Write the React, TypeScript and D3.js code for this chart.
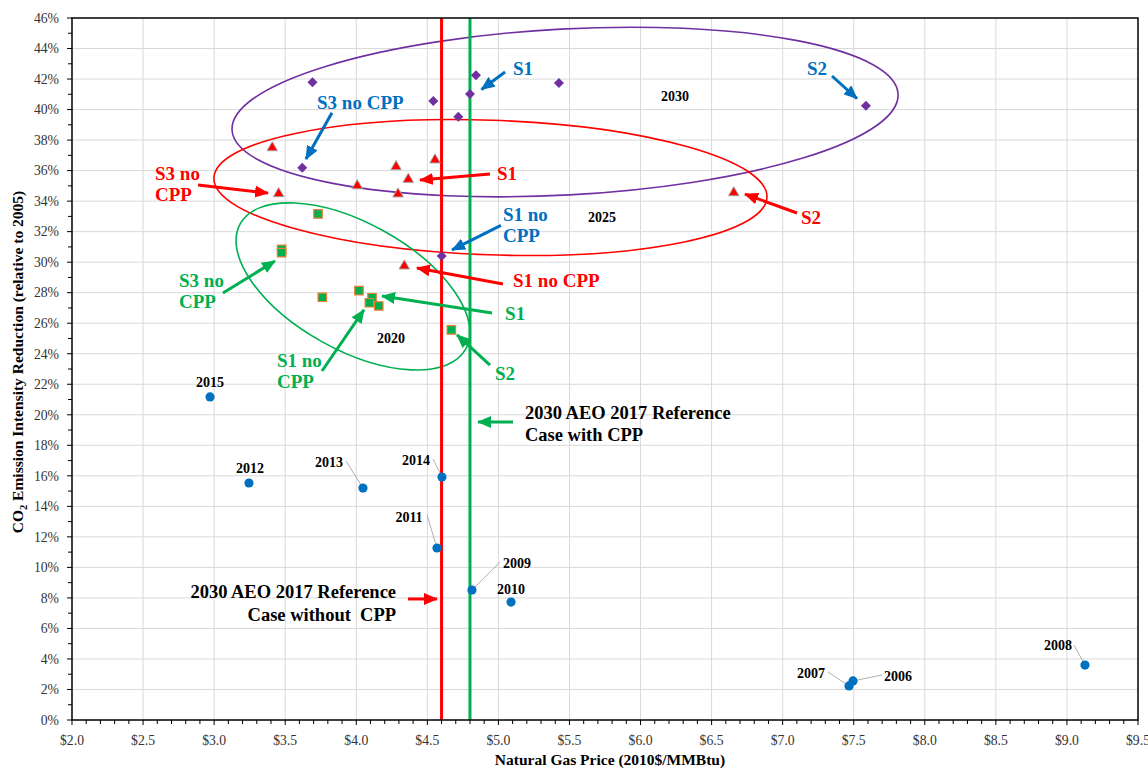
import React from 'react';
import * as d3 from 'd3';

const W = 1148;
const H = 768;

// ---------- data ----------
const xTickValues = [2, 2.5, 3, 3.5, 4, 4.5, 5, 5.5, 6, 6.5, 7, 7.5, 8, 8.5, 9, 9.5];
const yTickValues = [0, 2, 4, 6, 8, 10, 12, 14, 16, 18, 20, 22, 24, 26, 28, 30, 32, 34, 36, 38, 40, 42, 44, 46];

const histYears = ['2006', '2007', '2008', '2009', '2010', '2011', '2012', '2013', '2014', '2015'];
const histPrice = [7.495, 7.467, 9.127, 4.814, 5.089, 4.568, 3.245, 4.047, 4.603, 2.971];
const histReduction = [2.56, 2.23, 3.6, 8.52, 7.73, 11.27, 15.53, 15.2, 15.92, 21.17];
// label positions (data units) and leader start (null = no leader)
const histLabelX = [7.811, 7.199, 8.937, 5.131, 5.089, 4.371, 3.252, 3.808, 4.42, 2.971];
const histLabelY = [2.88, 3.08, 4.91, 10.29, 8.58, 13.3, 16.51, 16.91, 17.04, 22.15];
const histLeaderX = [7.699, 7.319, 9.05, 5.011, null, 4.498, null, 3.928, 4.54, null];
const histLeaderY = [2.95, 3.15, 4.91, 10.35, null, 13.43, null, 16.97, 17.1, null];

const price2030 = [3.692, 4.542, 4.842, 4.8, 4.718, 5.426, 7.586, 3.62, 4.601];
const red2030 = [41.79, 40.56, 42.25, 41.02, 39.53, 41.74, 40.25, 36.19, 30.4];

const price2025 = [3.409, 3.454, 4.007, 4.28, 4.366, 4.294, 4.554, 4.338, 6.656];
const red2025 = [37.5, 34.49, 35.01, 36.26, 35.43, 34.47, 36.7, 29.75, 34.55];

const price2020 = [3.731, 3.475, 3.475, 3.761, 4.019, 4.111, 4.092, 4.158, 4.669];
const red2020 = [33.16, 30.84, 30.62, 27.7, 28.13, 27.67, 27.34, 27.13, 25.56];

const refPriceNoCpp = 4.6;
const refPriceWithCpp = 4.8;

const BLUE = '#0070c0';
const RED = '#ff0000';
const GREEN = '#00b050';
const PURPLE = '#7030a0';

type Ann = {
  lines: string[];
  x: number;
  y: number;
  color: string;
  arrowColor: string;
  from: [number, number];
  to: [number, number];
  anchor?: 'start' | 'end';
  size?: number;
  gap?: number;
};

const annotations: Ann[] = [
  { lines: ['S1'], x: 5.103, y: 42.72, color: BLUE, arrowColor: BLUE, from: [5.047, 42.46], to: [4.881, 41.32] },
  { lines: ['S2'], x: 7.171, y: 42.72, color: BLUE, arrowColor: BLUE, from: [7.347, 42.2], to: [7.523, 40.72] },
  { lines: ['S3 no CPP'], x: 3.724, y: 40.5, color: BLUE, arrowColor: BLUE, from: [3.829, 39.79], to: [3.646, 36.76] },
  { lines: ['S1 no', 'CPP'], x: 5.032, y: 33.16, color: BLUE, arrowColor: BLUE, from: [5.018, 32.41], to: [4.674, 30.8] },
  { lines: ['S3 no', 'CPP'], x: 2.584, y: 35.84, color: RED, arrowColor: RED, from: [2.887, 35.06], to: [3.379, 34.53] },
  { lines: ['S1'], x: 4.99, y: 35.84, color: RED, arrowColor: RED, from: [4.941, 35.78], to: [4.448, 35.38] },
  { lines: ['S1 no CPP'], x: 5.103, y: 28.83, color: RED, arrowColor: RED, from: [5.032, 28.57], to: [4.427, 29.62] },
  { lines: ['S2'], x: 7.129, y: 32.96, color: RED, arrowColor: RED, from: [7.101, 33.22], to: [6.735, 34.46] },
  { lines: ['S3 no', 'CPP'], x: 2.753, y: 28.83, color: GREEN, arrowColor: GREEN, from: [3.062, 27.98], to: [3.428, 30.08] },
  { lines: ['S1'], x: 5.047, y: 26.67, color: GREEN, arrowColor: GREEN, from: [4.955, 26.67], to: [4.181, 27.78] },
  { lines: ['S1 no', 'CPP'], x: 3.442, y: 23.59, color: GREEN, arrowColor: GREEN, from: [3.759, 22.87], to: [4.054, 26.87] },
  { lines: ['S2'], x: 4.976, y: 22.74, color: GREEN, arrowColor: GREEN, from: [4.941, 23.26], to: [4.709, 25.23] },
  {
    lines: ['2030 AEO 2017 Reference', 'Case without  CPP'], x: 4.28, y: 8.45, color: '#000', arrowColor: RED,
    from: [4.364, 7.93], to: [4.568, 7.93], anchor: 'end', size: 18.5, gap: 23,
  },
  {
    lines: ['2030 AEO 2017 Reference', 'Case with CPP'], x: 5.187, y: 20.12, color: '#000', arrowColor: GREEN,
    from: [5.103, 19.53], to: [4.857, 19.53], anchor: 'start', size: 18.5, gap: 22,
  },
];

const groupLabels = ['2030', '2025', '2020'];
const groupLabelX = [6.243, 5.729, 4.244];
const groupLabelY = [40.89, 32.96, 25.03];

// ellipses: centers in data units, radii/rotation as styling
const ellipses = [
  { cx: 5.469, cy: 39.84, rx: 333.5, ry: 83, rot: -3.1, color: PURPLE },
  { cx: 4.944, cy: 34.89, rx: 276.7, ry: 67.3, rot: 2.0, color: RED },
  { cx: 3.977, cy: 28.41, rx: 129, ry: 63.4, rot: 29, color: GREEN },
];

const FONT = "'Liberation Serif', 'Times New Roman', serif";

export default function App() {
  const left = 72, right = 1138, top = 18, bottom = 720;
  const x = d3.scaleLinear().domain([2, 9.5]).range([left, right]);
  const y = d3.scaleLinear().domain([0, 46]).range([bottom, top]);

  const minorX = d3.range(20, 96, 1).map((v) => v / 10);
  const minorY = d3.range(0, 47, 1);

  const triangle = d3.symbol().type(d3.symbolTriangle).size(48)()!;
  const square = d3.symbol().type(d3.symbolSquare).size(72)()!;
  const diamond = d3.symbol().type(d3.symbolSquare).size(50)()!;

  const markerColors = [BLUE, RED, GREEN];

  return (
    <div style={{ position: 'absolute', left: 0, top: 0 }}>
      <svg width={W} height={H} style={{ display: 'block', background: '#fff' }} fontFamily={FONT}>
        <defs>
          {markerColors.map((c, i) => (
            <marker
              key={i}
              id={`arr${i}`}
              markerUnits="userSpaceOnUse"
              markerWidth={14}
              markerHeight={12}
              viewBox="0 0 14 12"
              refX={13}
              refY={6}
              orient="auto"
            >
              <path d="M0,0 L14,6 L0,12 Z" fill={c} />
            </marker>
          ))}
        </defs>

        {/* gridlines */}
        {xTickValues.slice(1, -1).map((v) => (
          <line key={'gx' + v} x1={x(v)} x2={x(v)} y1={top} y2={bottom} stroke="#d9d9d9" strokeWidth={1} />
        ))}
        {yTickValues.slice(1, -1).map((v) => (
          <line key={'gy' + v} x1={left} x2={right} y1={y(v)} y2={y(v)} stroke="#d9d9d9" strokeWidth={1} />
        ))}

        {/* ellipses */}
        {ellipses.map((e, i) => (
          <ellipse
            key={'el' + i}
            cx={0}
            cy={0}
            rx={e.rx}
            ry={e.ry}
            transform={`translate(${x(e.cx)},${y(e.cy)}) rotate(${e.rot})`}
            fill="none"
            stroke={e.color}
            strokeWidth={1.6}
          />
        ))}

        {/* reference lines */}
        <line x1={x(refPriceNoCpp)} x2={x(refPriceNoCpp)} y1={top} y2={bottom} stroke={RED} strokeWidth={3} />
        <line x1={x(refPriceWithCpp)} x2={x(refPriceWithCpp)} y1={top} y2={bottom} stroke={GREEN} strokeWidth={3} />

        {/* frame */}
        <rect x={left} y={top} width={right - left} height={bottom - top} fill="none" stroke="#000" strokeWidth={1.5} />

        {/* ticks */}
        {minorX.map((v) => {
          const major = Math.abs(v * 2 - Math.round(v * 2)) < 1e-6;
          return (
            <line key={'tx' + v} x1={x(v)} x2={x(v)} y1={bottom} y2={bottom + (major ? 5 : 4)} stroke="#000" strokeWidth={1} />
          );
        })}
        {minorY.map((v) => (
          <line key={'ty' + v} x1={left - (v % 2 === 0 ? 5 : 4)} x2={left} y1={y(v)} y2={y(v)} stroke="#000" strokeWidth={1} />
        ))}

        {/* tick labels */}
        {xTickValues.map((v) => (
          <text key={'lx' + v} x={x(v)} y={745} textAnchor="middle" fontSize={13.7} fill="#333">
            {'$' + v.toFixed(1)}
          </text>
        ))}
        {yTickValues.map((v) => (
          <text key={'ly' + v} x={59} y={y(v)} dy="0.35em" textAnchor="end" fontSize={13.7} fill="#333">
            {v + '%'}
          </text>
        ))}

        {/* axis titles */}
        <text x={610} y={765} textAnchor="middle" fontSize={15.5} fontWeight="bold" fill="#000">
          Natural Gas Price (2010$/MMBtu)
        </text>
        <text
          transform={`translate(23,362) rotate(-90)`}
          textAnchor="middle"
          fontSize={15.5}
          fontWeight="bold"
          fill="#000"
        >
          CO<tspan fontSize={10.5} dy={4}>2</tspan>
          <tspan dy={-4}> Emission Intensity Reduction (relative to 2005)</tspan>
        </text>

        {/* historical leader lines */}
        {histYears.map((yr, i) =>
          histLeaderX[i] != null ? (
            <line
              key={'ll' + yr}
              x1={x(histLeaderX[i] as number)}
              y1={y(histLeaderY[i] as number)}
              x2={x(histPrice[i])}
              y2={y(histReduction[i])}
              stroke="#a6a6a6"
              strokeWidth={0.9}
            />
          ) : null
        )}

        {/* historical points */}
        {histYears.map((yr, i) => (
          <circle key={'hp' + yr} cx={x(histPrice[i])} cy={y(histReduction[i])} r={4.6} fill={BLUE} />
        ))}
        {histYears.map((yr, i) => (
          <text
            key={'hl' + yr}
            x={x(histLabelX[i])}
            y={y(histLabelY[i])}
            dy="0.35em"
            textAnchor="middle"
            fontSize={14}
            fontWeight="bold"
            fill="#000"
          >
            {yr}
          </text>
        ))}

        {/* 2020 squares */}
        {price2020.map((p, i) => (
          <path
            key={'s20' + i}
            d={square}
            transform={`translate(${x(p)},${y(red2020[i])})`}
            fill={GREEN}
            stroke="#ed7d31"
            strokeWidth={1.2}
          />
        ))}
        {/* 2025 triangles */}
        {price2025.map((p, i) => (
          <path
            key={'s25' + i}
            d={triangle}
            transform={`translate(${x(p)},${y(red2025[i])})`}
            fill={RED}
            stroke="#a6a6a6"
            strokeWidth={1}
          />
        ))}
        {/* 2030 diamonds */}
        {price2030.map((p, i) => (
          <path
            key={'s30' + i}
            d={diamond}
            transform={`translate(${x(p)},${y(red2030[i])}) rotate(45)`}
            fill={PURPLE}
          />
        ))}

        {/* group labels */}
        {groupLabels.map((g, i) => (
          <text
            key={'g' + g}
            x={x(groupLabelX[i])}
            y={y(groupLabelY[i])}
            dy="0.35em"
            textAnchor="middle"
            fontSize={14}
            fontWeight="bold"
            fill="#000"
          >
            {g}
          </text>
        ))}

        {/* annotations */}
        {annotations.map((a, i) => {
          const ci = markerColors.indexOf(a.arrowColor);
          const fs = a.size ?? 19;
          const gap = a.gap ?? 21.5;
          return (
            <g key={'an' + i}>
              <line
                x1={x(a.from[0])}
                y1={y(a.from[1])}
                x2={x(a.to[0])}
                y2={y(a.to[1])}
                stroke={a.arrowColor}
                strokeWidth={3}
                markerEnd={`url(#arr${ci})`}
              />
              {a.lines.map((ln, k) => (
                <text
                  key={k}
                  x={x(a.x)}
                  y={y(a.y) + k * gap}
                  dy="0.35em"
                  textAnchor={a.anchor ?? 'start'}
                  fontSize={fs}
                  fontWeight="bold"
                  fill={a.color}
                  style={{ whiteSpace: 'pre' }}
                >
                  {ln}
                </text>
              ))}
            </g>
          );
        })}
      </svg>
    </div>
  );
}
